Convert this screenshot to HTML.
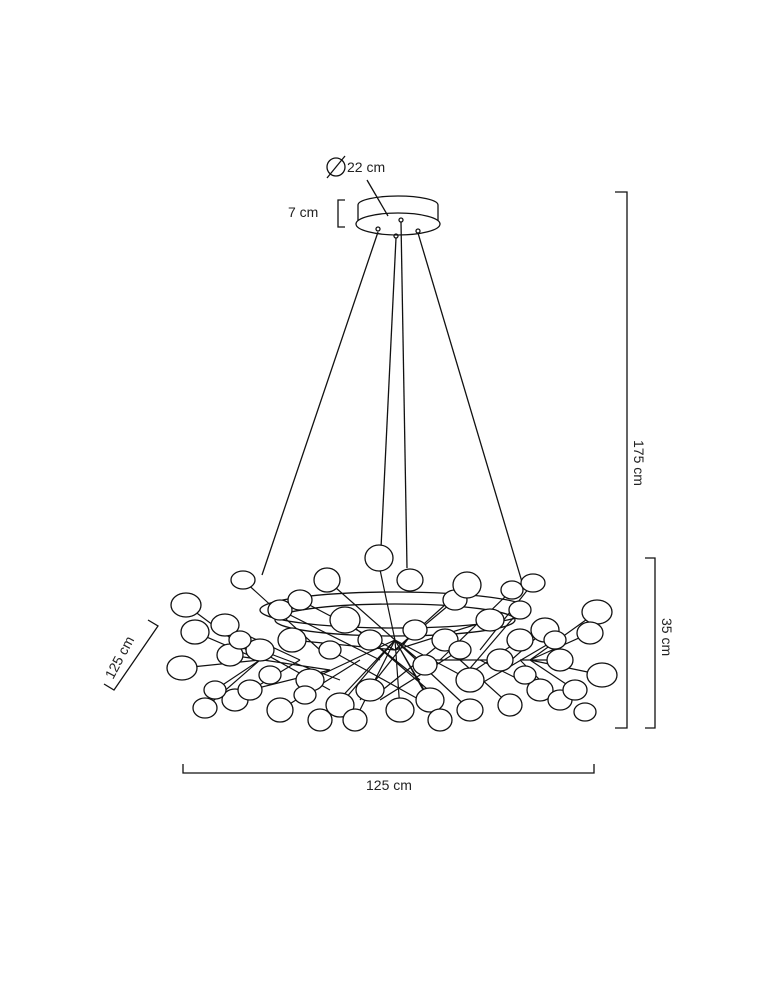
<!DOCTYPE html>
<html><head><meta charset="utf-8"><style>
html,body{margin:0;padding:0;background:#fff;}
svg{display:block}
text{font-family:"Liberation Sans",sans-serif;font-size:14px;fill:#222}
</style></head><body>
<svg width="774" height="1000" viewBox="0 0 774 1000" xmlns="http://www.w3.org/2000/svg">
<g fill="none" stroke="#111" stroke-width="1.3">
<path d="M358 205 A40 9 0 0 1 438 205 L438 222"/>
<path d="M358 205 L358 222"/>
<ellipse cx="398" cy="224" rx="42" ry="11" fill="#fff"/>
<circle cx="378" cy="229" r="2"/><circle cx="396" cy="236" r="2"/><circle cx="401" cy="220" r="2"/><circle cx="418" cy="231" r="2"/>
<line x1="367" y1="180" x2="388" y2="216"/>
<line x1="378" y1="232" x2="262" y2="575"/>
<line x1="396" y1="238" x2="381" y2="548"/>
<line x1="401" y1="222" x2="407" y2="568"/>
<line x1="418" y1="233" x2="522" y2="582"/>
<ellipse cx="395" cy="610" rx="135" ry="18"/>
<ellipse cx="395" cy="620" rx="120" ry="16"/>
<g stroke-width="1.2">
<path d="M186 605 L260 660 M195 632 L260 660 M182 668 L260 660 M205 708 L260 660 M225 625 L300 660 M235 700 L300 660 M215 690 L260 660 M243 580 L320 650 M230 655 L330 670 M250 690 L330 670 M260 650 L340 680 M280 710 L360 660 M280 610 L380 660 M292 640 L395 650 M300 600 L395 650 M310 680 L395 640 M320 720 L395 640 M327 580 L395 640 M340 705 L395 640 M345 620 L420 680 M355 720 L395 640 M370 690 L395 640 M370 640 L440 700 M379 565 L395 640 M400 710 L395 640 M415 630 L360 700 M425 665 L395 640 M430 700 L395 640 M440 720 L395 640 M445 640 L370 700 M455 600 L395 650 M467 585 L395 650 M470 680 L395 640 M470 710 L395 640 M490 620 L395 650 M500 660 L420 660 M510 705 L460 660 M512 590 L440 660 M520 640 L460 680 M520 610 L460 680 M533 583 L480 650 M540 690 L480 660 M545 630 L500 670 M560 660 L520 660 M560 700 L520 660 M575 690 L530 660 M597 612 L530 660 M590 633 L530 660 M602 675 L530 660 M240 640 L330 690 M555 640 L470 690 M330 650 L420 700 M460 650 L380 700"/>
</g>
<g fill="#fff" stroke-width="1.3">
<ellipse cx="186" cy="605" rx="15" ry="12"/><ellipse cx="195" cy="632" rx="14" ry="12"/><ellipse cx="182" cy="668" rx="15" ry="12"/><ellipse cx="205" cy="708" rx="12" ry="10"/><ellipse cx="225" cy="625" rx="14" ry="11"/><ellipse cx="235" cy="700" rx="13" ry="11"/><ellipse cx="215" cy="690" rx="11" ry="9"/><ellipse cx="243" cy="580" rx="12" ry="9"/><ellipse cx="230" cy="655" rx="13" ry="11"/><ellipse cx="250" cy="690" rx="12" ry="10"/><ellipse cx="260" cy="650" rx="14" ry="11"/><ellipse cx="280" cy="710" rx="13" ry="12"/><ellipse cx="280" cy="610" rx="12" ry="10"/><ellipse cx="292" cy="640" rx="14" ry="12"/><ellipse cx="300" cy="600" rx="12" ry="10"/><ellipse cx="310" cy="680" rx="14" ry="11"/><ellipse cx="320" cy="720" rx="12" ry="11"/><ellipse cx="327" cy="580" rx="13" ry="12"/><ellipse cx="340" cy="705" rx="14" ry="12"/><ellipse cx="345" cy="620" rx="15" ry="13"/><ellipse cx="355" cy="720" rx="12" ry="11"/><ellipse cx="370" cy="690" rx="14" ry="11"/><ellipse cx="370" cy="640" rx="12" ry="10"/><ellipse cx="379" cy="558" rx="14" ry="13"/><ellipse cx="400" cy="710" rx="14" ry="12"/><ellipse cx="415" cy="630" rx="12" ry="10"/><ellipse cx="425" cy="665" rx="12" ry="10"/><ellipse cx="430" cy="700" rx="14" ry="12"/><ellipse cx="440" cy="720" rx="12" ry="11"/><ellipse cx="445" cy="640" rx="13" ry="11"/><ellipse cx="455" cy="600" rx="12" ry="10"/><ellipse cx="467" cy="585" rx="14" ry="13"/><ellipse cx="470" cy="680" rx="14" ry="12"/><ellipse cx="470" cy="710" rx="13" ry="11"/><ellipse cx="490" cy="620" rx="14" ry="11"/><ellipse cx="500" cy="660" rx="13" ry="11"/><ellipse cx="510" cy="705" rx="12" ry="11"/><ellipse cx="512" cy="590" rx="11" ry="9"/><ellipse cx="520" cy="640" rx="13" ry="11"/><ellipse cx="520" cy="610" rx="11" ry="9"/><ellipse cx="533" cy="583" rx="12" ry="9"/><ellipse cx="540" cy="690" rx="13" ry="11"/><ellipse cx="545" cy="630" rx="14" ry="12"/><ellipse cx="560" cy="660" rx="13" ry="11"/><ellipse cx="560" cy="700" rx="12" ry="10"/><ellipse cx="575" cy="690" rx="12" ry="10"/><ellipse cx="597" cy="612" rx="15" ry="12"/><ellipse cx="590" cy="633" rx="13" ry="11"/><ellipse cx="602" cy="675" rx="15" ry="12"/><ellipse cx="585" cy="712" rx="11" ry="9"/><ellipse cx="410" cy="580" rx="13" ry="11"/><ellipse cx="305" cy="695" rx="11" ry="9"/><ellipse cx="240" cy="640" rx="11" ry="9"/><ellipse cx="555" cy="640" rx="11" ry="9"/><ellipse cx="330" cy="650" rx="11" ry="9"/><ellipse cx="460" cy="650" rx="11" ry="9"/><ellipse cx="270" cy="675" rx="11" ry="9"/><ellipse cx="525" cy="675" rx="11" ry="9"/>
</g>
<path d="M615 192 H627 V728 H615"/>
<path d="M645 558 H655 V728 H645"/>
<path d="M183 764 V773 H594 V764"/>
<path d="M345 200 H338 V227 H345"/>
<path d="M148 620 L158 626 L114 690 L104 684"/>
<circle cx="336" cy="167" r="9"/><line x1="327" y1="178" x2="345" y2="156"/>
</g>
<text x="347" y="172">22 cm</text>
<text x="288" y="217">7 cm</text>
<text x="366" y="790">125 cm</text>
<text transform="translate(634,440) rotate(90)">175 cm</text>
<text transform="translate(662,618) rotate(90)">35 cm</text>
<text transform="translate(113,680) rotate(-62)">125 cm</text>
</svg>
</body></html>
